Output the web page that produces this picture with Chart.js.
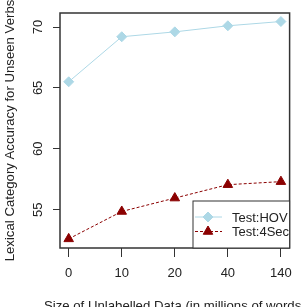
<!DOCTYPE html>
<html>
<head>
<meta charset="utf-8">
<script src="https://cdn.jsdelivr.net/npm/chart.js@4"></script>
<style>
  html, body { margin: 0; padding: 0; background: #fff; }
  #wrap { width: 301px; height: 307px; }
</style>
</head>
<body>
<div id="wrap"><canvas id="chart"></canvas></div>
<script>
var sizes = ['0', '10', '20', '40', '140'];
var hov = [65.5, 69.2, 69.6, 70.1, 70.45];
var sec4 = [52.6, 54.85, 55.95, 57.05, 57.3];
var yTicks = [55, 60, 65, 70];
var seriesNames = ['Test:HOV', 'Test:4Sec'];
var xTitle = 'Size of Unlabelled Data (in millions of words)';

var FONT = 'Liberation Sans, Arial, sans-serif';
Chart.defaults.font.family = FONT;
Chart.defaults.font.size = 13;
Chart.defaults.color = '#222';

function points(vals) {
  return vals.map(function (v, i) { return { x: i, y: v }; });
}

// box around plot, rotated y tick labels, x title that may overflow, legend
var rStyle = {
  id: 'rStyle',
  afterDraw: function (chart) {
    var ctx = chart.ctx;
    var a = chart.chartArea;
    var yScale = chart.scales.y;
    ctx.save();
    ctx.strokeStyle = '#333';
    ctx.lineWidth = 1.5;
    ctx.strokeRect(a.left, a.top, a.right - a.left, a.bottom - a.top);

    ctx.fillStyle = '#222';
    ctx.font = '13px ' + FONT;
    ctx.textAlign = 'center';
    ctx.textBaseline = 'middle';
    yTicks.forEach(function (t) {
      var py = yScale.getPixelForValue(t);
      ctx.save();
      ctx.translate(38, py);
      ctx.rotate(-Math.PI / 2);
      ctx.fillText(String(t), 0, 0);
      ctx.restore();
    });

    ctx.font = '13.2px ' + FONT;
    ctx.fillText(xTitle, (a.left + a.right) / 2, 306);

    // legend
    ctx.font = '13px ' + FONT;
    var lx = 193, ly = 201, lw = a.right - 193, lh = a.bottom - 201;
    ctx.fillStyle = '#fff';
    ctx.fillRect(lx, ly, lw, lh);
    ctx.strokeStyle = '#333';
    ctx.lineWidth = 1;
    ctx.strokeRect(lx, ly, lw, lh);
    chart.data.datasets.forEach(function (ds, i) {
      var yy = 217 + i * 14.5;
      ctx.save();
      ctx.strokeStyle = ds.borderColor;
      ctx.lineWidth = ds.borderWidth;
      ctx.setLineDash(ds.borderDash || []);
      ctx.beginPath();
      ctx.moveTo(195, yy);
      ctx.lineTo(222, yy);
      ctx.stroke();
      ctx.restore();
      ctx.fillStyle = ds.pointBackgroundColor;
      ctx.strokeStyle = ds.pointBorderColor;
      Chart.helpers.drawPoint(ctx, {
        pointStyle: ds.pointStyle, radius: ds.pointRadius, rotation: 0, borderWidth: 1
      }, 208, yy);
      ctx.fillStyle = '#222';
      ctx.textAlign = 'left';
      ctx.fillText(ds.label, 232, yy + 1);
    });
    ctx.restore();
  }
};

new Chart(document.getElementById('chart'), {
  type: 'line',
  data: {
    datasets: [{
      label: seriesNames[0],
      data: points(hov),
      borderColor: '#add8e6',
      borderWidth: 1,
      pointStyle: 'rectRot',
      pointRadius: 5,
      pointBackgroundColor: '#add8e6',
      pointBorderColor: '#add8e6'
    }, {
      label: seriesNames[1],
      data: points(sec4),
      borderColor: '#8b0000',
      borderWidth: 1,
      borderDash: [3, 2],
      pointStyle: 'triangle',
      pointRadius: 5.5,
      pointBackgroundColor: '#8b0000',
      pointBorderColor: '#8b0000'
    }]
  },
  plugins: [rStyle],
  options: {
    responsive: true,
    maintainAspectRatio: false,
    animation: false,
    layout: { padding: { top: 13, right: 4, left: 0, bottom: 0 } },
    plugins: { legend: { display: false }, tooltip: { enabled: false } },
    scales: {
      x: {
        type: 'linear',
        min: -0.164,
        max: 4.164,
        afterBuildTicks: function (s) {
          s.ticks = sizes.map(function (_, i) { return { value: i }; });
        },
        afterFit: function (s) { s.height = 59; },
        ticks: {
          padding: 9,
          maxRotation: 0,
          callback: function (v) { return sizes[v]; }
        },
        grid: { drawOnChartArea: false, tickLength: 9, color: '#333' },
        border: { display: false }
      },
      y: {
        min: 51.85,
        max: 71.15,
        afterBuildTicks: function (s) {
          s.ticks = yTicks.map(function (v) { return { value: v }; });
        },
        afterFit: function (s) { s.width = 60; },
        ticks: { display: false },
        grid: { drawOnChartArea: false, tickLength: 7, color: '#333' },
        border: { display: false },
        title: {
          display: true,
          text: 'Lexical Category Accuracy for Unseen Verbs',
          font: { size: 13.2 },
          padding: { top: 2, bottom: 0 }
        }
      }
    }
  }
});
</script>
</body>
</html>
